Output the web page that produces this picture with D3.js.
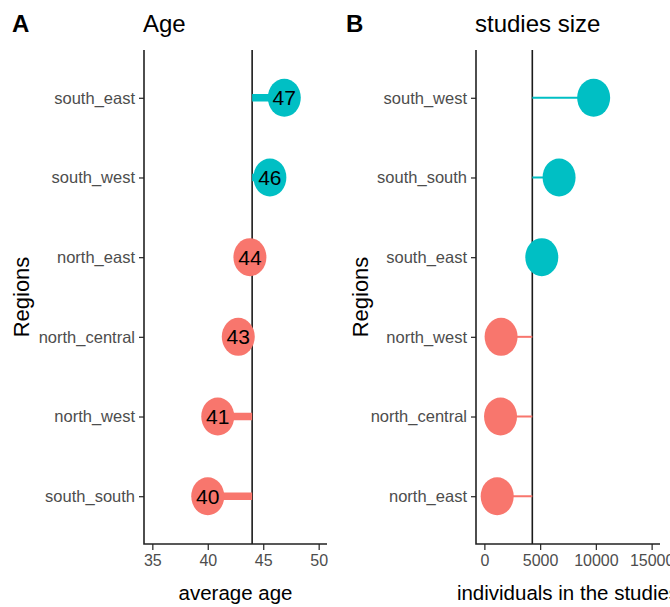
<!DOCTYPE html>
<html>
<head>
<meta charset="utf-8">
<script src="https://cdn.jsdelivr.net/npm/d3@7"></script>
<style>
  html, body { margin: 0; padding: 0; background: #fff; }
  svg { display: block; font-family: "Liberation Sans", Arial, sans-serif; }
</style>
</head>
<body>
<svg id="chart" width="670" height="607"></svg>
<script>
// ---- data ----
const ageRegions = ["south_east", "south_west", "north_east", "north_central", "north_west", "south_south"];
const ageValues = [46.9, 45.6, 43.8, 42.75, 40.9, 40.0];
const ageGroups = ["above", "above", "below", "below", "below", "below"];
const ageMean = 44;
const ageTicks = [35, 40, 45, 50];

const sizeRegions = ["south_west", "south_south", "south_east", "north_west", "north_central", "north_east"];
const sizeValues = [9800, 6700, 5150, 1500, 1450, 1150];
const sizeGroups = ["above", "above", "above", "below", "below", "below"];
const sizeMean = 4300;
const sizeTicks = [0, 5000, 10000, 15000];

const groupColors = { above: "#00BFC4", below: "#F8766D" };

const svg = d3.select("#chart");

function panel(opts) {
  const g = svg.append("g");
  const x = d3.scaleLinear().domain(opts.domain).range([opts.left, opts.right]);
  const y = d3.scalePoint().domain(opts.regions).range([opts.top, opts.bottom]).padding(0.6);
  const rows = opts.regions.map((r, i) => ({ region: r, value: opts.values[i], group: opts.groups[i] }));

  // mean line
  g.append("line")
    .attr("x1", x(opts.mean)).attr("x2", x(opts.mean))
    .attr("y1", opts.top).attr("y2", opts.bottom)
    .attr("stroke", "#1a1a1a").attr("stroke-width", 1.6);

  // segments
  g.selectAll("line.seg").data(rows).enter().append("line")
    .attr("class", "seg")
    .attr("x1", x(opts.mean)).attr("x2", d => x(d.value))
    .attr("y1", d => y(d.region)).attr("y2", d => y(d.region))
    .attr("stroke", d => groupColors[d.group])
    .attr("stroke-width", opts.segWidth);

  // dots
  g.selectAll("ellipse").data(rows).enter().append("ellipse")
    .attr("cx", d => x(d.value)).attr("cy", d => y(d.region))
    .attr("rx", 16.5).attr("ry", 19)
    .attr("fill", d => groupColors[d.group]);

  if (opts.labels) {
    g.selectAll("text.val").data(rows).enter().append("text")
      .attr("class", "val")
      .attr("x", d => x(d.value)).attr("y", d => y(d.region))
      .attr("dy", "0.36em")
      .attr("text-anchor", "middle")
      .attr("font-size", 21)
      .attr("fill", "#000")
      .text(d => Math.round(d.value));
  }

  // x axis
  const xa = g.append("g").attr("transform", `translate(0,${opts.bottom})`)
    .call(d3.axisBottom(x).tickValues(opts.ticks).tickSize(6).tickPadding(5).tickFormat(d3.format("d")));
  xa.select(".domain").remove();
  xa.selectAll(".tick line").attr("stroke", "#333").attr("stroke-width", 1.3);
  xa.selectAll(".tick text").attr("fill", "#4D4D4D").attr("font-size", 16)
    .attr("font-family", "Liberation Sans, Arial, sans-serif");

  // y axis
  const ya = g.append("g").attr("transform", `translate(${opts.left},0)`)
    .call(d3.axisLeft(y).tickSize(5).tickPadding(4));
  ya.select(".domain").remove();
  ya.selectAll(".tick line").attr("stroke", "#333").attr("stroke-width", 1.3);
  ya.selectAll(".tick text").attr("fill", "#4D4D4D").attr("font-size", 16.5)
    .attr("font-family", "Liberation Sans, Arial, sans-serif");

  // axis lines
  g.append("path")
    .attr("d", `M${opts.left},${opts.top}V${opts.bottom}H${opts.right}`)
    .attr("fill", "none").attr("stroke", "#222").attr("stroke-width", 1.6);

  // titles
  g.append("text").attr("x", opts.tagX).attr("y", 32)
    .attr("font-size", 24).attr("font-weight", "bold").attr("fill", "#000").text(opts.tag);
  g.append("text").attr("x", opts.left - 1).attr("y", 32)
    .attr("font-size", 24).attr("fill", "#000").text(opts.title);
  g.append("text")
    .attr("transform", `translate(${opts.ytitleX},${(opts.top + opts.bottom) / 2}) rotate(-90)`)
    .attr("text-anchor", "middle").attr("font-size", 22).attr("fill", "#000").text("Regions");
  g.append("text")
    .attr("x", (opts.left + opts.right) / 2).attr("y", 600)
    .attr("text-anchor", "middle").attr("font-size", 20.5).attr("fill", "#000").text(opts.xtitle);
}

panel({
  regions: ageRegions, values: ageValues, groups: ageGroups, mean: ageMean,
  domain: [34.25, 50.75], ticks: ageTicks,
  left: 144, right: 327, top: 50, bottom: 544,
  segWidth: 7.5, labels: true,
  tag: "A", tagX: 12, title: "Age", ytitleX: 29, xtitle: "average age"
});

panel({
  regions: sizeRegions, values: sizeValues, groups: sizeGroups, mean: sizeMean,
  domain: [-750, 15750], ticks: sizeTicks,
  left: 476, right: 660, top: 50, bottom: 544,
  segWidth: 2, labels: false,
  tag: "B", tagX: 346, title: "studies size", ytitleX: 368, xtitle: "individuals in the studies"
});
</script>
</body>
</html>
